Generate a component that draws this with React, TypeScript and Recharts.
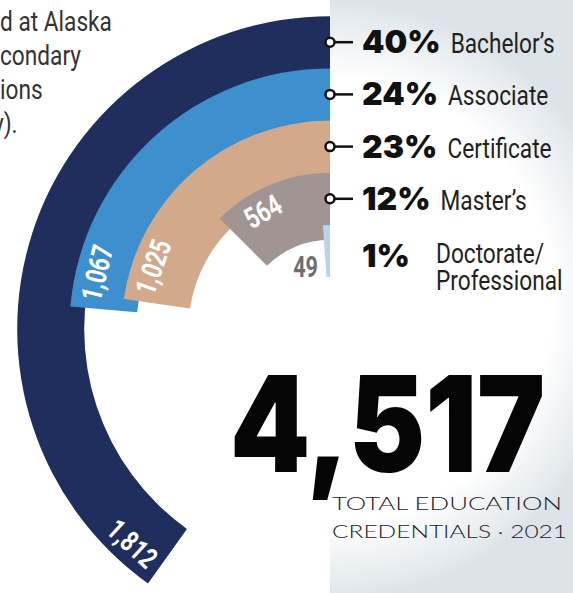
import React from "react";
import { RadialBarChart, RadialBar, PolarAngleAxis, PolarRadiusAxis, Cell, Sector } from "recharts";

const categories = ["Bachelor's", "Associate", "Certificate", "Master's", "Doctorate/Professional"];
const credentials = [1812, 1067, 1025, 564, 49];
const legendNames = [["Bachelor’s"], ["Associate"], ["Certificate"], ["Master’s"], ["Doctorate/", "Professional"]];
const colors = ["#1f2e5c", "#3e8fce", "#d3a98c", "#a09593", "#b9d3ea"];
const introLines = ["d at Alaska", "condary", "ions", "y)."];
const totalLines = ["TOTAL EDUCATION", "CREDENTIALS · 2021"];

const total = credentials.reduce((a, b) => a + b, 0);
const data = categories.map((name, i) => ({ name, value: credentials[i] }));

const SANS = 'Roboto, "DejaVu Sans", sans-serif';
const HEAVY = 'Inter, "DejaVu Sans", sans-serif';
const SQUEEZE = 0.81; // no condensed font installed, so narrow Roboto by hand

let ctx: CanvasRenderingContext2D | null = null;
function textWidth(t: string, font: string) {
  if (!ctx) ctx = document.createElement("canvas").getContext("2d");
  if (!ctx) return t.length * 20;
  ctx.font = font;
  return ctx.measureText(t).width;
}

// rotation that keeps a label along the arc and readable
function tangentRotation(deg: number) {
  const t = (deg * Math.PI) / 180;
  let phi = (Math.atan2(-Math.cos(t), -Math.sin(t)) * 180) / Math.PI;
  if (phi > 90) phi -= 180;
  if (phi <= -90) phi += 180;
  return phi;
}

function Narrow({ x, y, size, weight = 400, fill, scale = SQUEEZE, anchor = "start", children }: any) {
  return (
    <g transform={`translate(${x} ${y}) scale(${scale} 1)`}>
      <text x={0} y={0} textAnchor={anchor} fontFamily={SANS} fontWeight={weight} fontSize={size} fill={fill}>
        {children}
      </text>
    </g>
  );
}

function Arc(props: any) {
  const { cx, cy, innerRadius, outerRadius, startAngle, endAngle } = props;
  const i = categories.indexOf(props.payload?.name ?? props.name);
  const last = i === categories.length - 1;
  const inner = last ? innerRadius : innerRadius - 15;
  const mid = (innerRadius + outerRadius) / 2;
  const dir = endAngle >= startAngle ? 1 : -1;

  const labelR = mid + 5;
  const labelA = endAngle - dir * (36 / labelR) * (180 / Math.PI);
  const rad = (labelA * Math.PI) / 180;
  const lx = cx + labelR * Math.cos(rad);
  const ly = cy - labelR * Math.sin(rad);

  const my = cy - mid;
  const pct = Math.round((credentials[i] / total) * 100) + "%";
  const pctW = textWidth(pct, `900 32px ${HEAVY}`);
  const names = legendNames[i];

  return (
    <g>
      <Sector cx={cx} cy={cy} innerRadius={inner} outerRadius={outerRadius} startAngle={startAngle} endAngle={endAngle} fill={colors[i]} />
      {last ? (
        <Narrow x={cx - 12} y={cy - innerRadius} size={30} weight={700} fill="#6e6e70" scale={0.72} anchor="end">
          {credentials[i]}
        </Narrow>
      ) : (
        <g transform={`translate(${lx} ${ly}) rotate(${tangentRotation(labelA)}) scale(0.76 1)`}>
          <text x={0} y={0} textAnchor="middle" dominantBaseline="central" fontFamily={SANS} fontWeight={700} fontSize={29} fill="#ffffff">
            {credentials[i].toLocaleString("en-US")}
          </text>
        </g>
      )}
      {!last && (
        <>
          <line x1={cx + 4} y1={my} x2={cx + 23} y2={my} stroke="#111" strokeWidth={2.5} />
          <circle cx={cx} cy={my} r={4.5} fill="#fff" stroke="#111" strokeWidth={2.5} />
          <text x={cx + 32} y={my + 11} fontFamily={HEAVY} fontWeight={900} fontSize={32} fill="#111">{pct}</text>
          <Narrow x={cx + 32 + pctW + 10} y={my + 11} size={28} fill="#231f20">{names[0]}</Narrow>
        </>
      )}
      {last && (
        <>
          <text x={cx + 32} y={my + 16} fontFamily={HEAVY} fontWeight={900} fontSize={32} fill="#111">{pct}</text>
          {names.map((n, k) => (
            <Narrow key={n} x={cx + 106} y={my + 12 + k * 27} size={28} fill="#231f20">{n}</Narrow>
          ))}
        </>
      )}
    </g>
  );
}

export default function App() {
  return (
    <div style={{ position: "fixed", left: 0, top: 0, width: 573, height: 593, overflow: "hidden", background: "#fff" }}>
      <svg width={573} height={593} style={{ position: "absolute", left: 0, top: 0 }}>
        <defs>
          <radialGradient id="panel" gradientUnits="userSpaceOnUse" cx={330} cy={300} r={300}>
            <stop offset="0" stopColor="#ffffff" />
            <stop offset="0.74" stopColor="#ffffff" />
            <stop offset="0.95" stopColor="#e4eaee" />
            <stop offset="1" stopColor="#dce4e9" />
          </radialGradient>
        </defs>
        <rect x={330} y={0} width={243} height={593} fill="url(#panel)" />
        {introLines.map((t, k) => (
          <Narrow key={t} x={k === 3 ? -7 : 0} y={31 + k * 34} size={28} fill="#333">{t}</Narrow>
        ))}
      </svg>
      <div style={{ position: "absolute", left: 0, top: 0 }}>
        <RadialBarChart
          width={573}
          height={593}
          data={data}
          cx={330}
          cy={329}
          innerRadius={52}
          outerRadius={313}
          startAngle={90}
          endAngle={450}
          barCategoryGap={0}
          margin={{ top: 0, right: 0, bottom: 0, left: 0 }}
        >
          <PolarAngleAxis type="number" domain={[0, total]} tick={false} axisLine={false} />
          <PolarRadiusAxis type="category" dataKey="name" reversed tick={false} axisLine={false} />
          <RadialBar dataKey="value" isAnimationActive={false} shape={Arc}>
            {data.map((d, i) => (
              <Cell key={d.name} fill={colors[i]} />
            ))}
          </RadialBar>
        </RadialBarChart>
      </div>
      <svg width={573} height={593} style={{ position: "absolute", left: 0, top: 0, pointerEvents: "none" }}>
        <text x={230} y={472} fontFamily={HEAVY} fontWeight={900} fontSize={134} textLength={315} lengthAdjust="spacingAndGlyphs" fill="#050505">
          {total.toLocaleString("en-US")}
        </text>
        {totalLines.map((t, k) => (
          <text key={t} x={332} y={510 + k * 28} fontFamily="Lato, 'Open Sans', sans-serif" fontWeight={300} fontSize={18} textLength={k === 0 ? 230 : 235} lengthAdjust="spacingAndGlyphs" fill="#222">
            {t}
          </text>
        ))}
      </svg>
    </div>
  );
}
